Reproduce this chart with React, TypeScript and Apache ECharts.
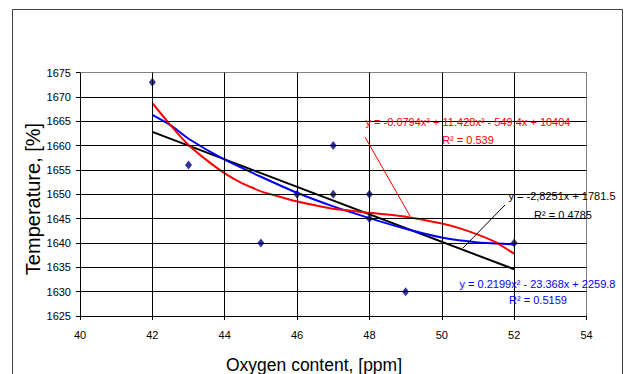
import React, { useEffect, useRef } from "react";
import * as echarts from "echarts";

// Observed data points (Oxygen content, Temperature)
const pointX = [42, 43, 45, 46, 47, 47, 48, 48, 49, 52];
const pointY = [1673, 1656, 1640, 1650, 1660, 1650, 1650, 1645, 1630, 1640];

// Trendlines
const linearX = [42, 52];
const linearY = [1662.8, 1634.6];

const quadX = [42, 42.5, 43, 44, 45, 46, 47, 48, 49, 50, 51, 52];
const quadY = [1666.3, 1664.2, 1661.4, 1657.1, 1653.6, 1650.3, 1647.5, 1645.1, 1642.9, 1641.1, 1640.1, 1639.7];

const cubicX = [42, 42.5, 43, 43.5, 44, 44.5, 45, 46, 47, 48, 49, 50, 50.5, 51, 51.5, 52];
const cubicY = [1668.7, 1664.2, 1660.1, 1657.0, 1654.3, 1652.2, 1650.6, 1648.5, 1647.0, 1646.2, 1645.4, 1644.0, 1643.0, 1641.7, 1640.1, 1637.8];

// Axis ticks
const xTicks = [40, 42, 44, 46, 48, 50, 52, 54];
const yTicks = [1625, 1630, 1635, 1640, 1645, 1650, 1655, 1660, 1665, 1670, 1675];

// Labels
const xTitle = "Oxygen content, [ppm]";
const yTitle = "Temperature, [%]";
const cubicLabel = ["y = -0.0794x³ + 11.428x² - 549.4x + 10404", "R² = 0.539"];
const linearLabel = ["y = -2,8251x + 1781.5", "R² = 0.4785"];
const quadLabel = ["y = 0.2199x² - 23.368x + 2259.8", "R² = 0.5159"];

const FONT = "Liberation Sans, Arial, sans-serif";

const zip = (xs: number[], ys: number[]) => xs.map((x, i) => [x, ys[i]]);

const label = (text: string, x: number, y: number, color: string, fontSize = 11, rotation = 0) => ({
  type: "text",
  x,
  y,
  rotation,
  z: 100,
  style: {
    text,
    fill: color,
    fontSize,
    fontFamily: FONT,
    align: "center",
    verticalAlign: "middle",
  },
});

// inner gridlines (the first tick is the axis line, the last one the plot border)
const innerGrid = [
  ...xTicks.slice(1, -1).map((v) => ({ xAxis: v })),
  ...yTicks.slice(1, -1).map((v) => ({ yAxis: v })),
];

export default function App() {
  const ref = useRef<HTMLDivElement>(null);

  useEffect(() => {
    if (!ref.current) return;
    const chart = echarts.init(ref.current, null, { renderer: "svg" });
    chart.setOption({
      animation: false,
      backgroundColor: "#fff",
      textStyle: { fontFamily: FONT },
      grid: { left: 80, right: 42.5, top: 72.5, bottom: 58 },
      xAxis: {
        type: "value",
        min: xTicks[0],
        max: xTicks[xTicks.length - 1],
        interval: xTicks[1] - xTicks[0],
        axisLine: { show: true, lineStyle: { color: "#000" } },
        axisTick: { show: true, length: 4, lineStyle: { color: "#000" } },
        splitLine: { show: true, lineStyle: { color: "#000" } },
        axisLabel: { color: "#000", fontSize: 11, fontFamily: FONT, margin: 13 },
      },
      yAxis: {
        type: "value",
        min: yTicks[0],
        max: yTicks[yTicks.length - 1],
        interval: yTicks[1] - yTicks[0],
        axisLine: { show: true, lineStyle: { color: "#000" } },
        axisTick: { show: true, length: 4, lineStyle: { color: "#000" } },
        splitLine: { show: true, lineStyle: { color: "#000" } },
        axisLabel: {
          color: "#000",
          fontSize: 11,
          fontFamily: FONT,
          margin: 9,
          formatter: (v: number) => String(v),
        },
      },
      series: [
        {
          type: "scatter",
          data: zip(pointX, pointY),
          symbol: "diamond",
          symbolSize: [7, 9],
          itemStyle: { color: "#000080" },
          markLine: {
            silent: true,
            symbol: ["none", "none"],
            label: { show: false },
            lineStyle: { color: "#000", width: 1, type: "solid" },
            emphasis: { disabled: true },
            data: innerGrid,
          },
        },
        {
          type: "line",
          data: zip(linearX, linearY),
          symbol: "none",
          lineStyle: { color: "#000", width: 2 },
        },
        {
          type: "line",
          data: zip(quadX, quadY),
          symbol: "none",
          smooth: 0.2,
          lineStyle: { color: "#0000FF", width: 2 },
        },
        {
          type: "line",
          data: zip(cubicX, cubicY),
          symbol: "none",
          smooth: 0.1,
          lineStyle: { color: "#FF0000", width: 2 },
        },
      ],
      graphic: [
        {
          type: "polyline",
          shape: {
            points: [
              [12.5, 380],
              [12.5, 9.5],
              [622.5, 9.5],
              [622.5, 380],
            ],
          },
          style: { stroke: "#404040", lineWidth: 1, fill: null },
          z: 100,
          silent: true,
        },
        {
          type: "polyline",
          shape: {
            points: [
              [80.5, 72.5],
              [586.5, 72.5],
              [586.5, 315.5],
            ],
          },
          style: { stroke: "#808080", lineWidth: 1, fill: null },
          z: 1,
          silent: true,
        },
        {
          type: "line",
          shape: { x1: 365, y1: 137, x2: 410, y2: 216 },
          style: { stroke: "#FF0000", lineWidth: 1 },
          z: 100,
        },
        {
          type: "line",
          shape: { x1: 505, y1: 205, x2: 463, y2: 248 },
          style: { stroke: "#000", lineWidth: 1 },
          z: 100,
        },
        label(xTitle, 314, 365, "#000", 17.5),
        label(yTitle, 33, 199, "#000", 20, Math.PI / 2),
        label(cubicLabel[0], 468, 122, "#FF0000"),
        label(cubicLabel[1], 468, 139.5, "#FF0000"),
        label(linearLabel[0], 562, 196, "#000"),
        label(linearLabel[1], 563, 214.5, "#000"),
        label(quadLabel[0], 537.5, 283.5, "#0000FF"),
        label(quadLabel[1], 538, 300, "#0000FF"),
      ],
    });
    return () => chart.dispose();
  }, []);

  return (
    <div
      ref={ref}
      style={{ position: "absolute", left: 0, top: 0, width: 629, height: 374, background: "#fff" }}
    />
  );
}
